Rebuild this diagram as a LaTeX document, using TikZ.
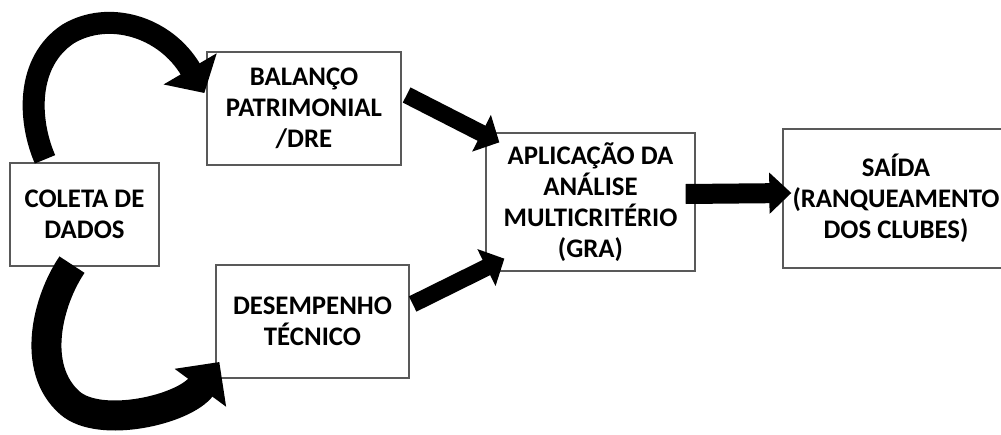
\documentclass[tikz,border=0pt]{standalone}
\usepackage{fontspec}
\setmainfont{Carlito}
\usetikzlibrary{arrows.meta,calc}
\begin{document}
\begin{tikzpicture}[x=1pt,y=-1pt,
  box/.style={draw=black!65, line width=1.3pt, align=center, inner sep=0pt,
    font=\bfseries\fontsize{26.8}{31}\selectfont},
  blockarrow/.style={line width=#1, -{Triangle[width=40pt,length=20pt]}},
  curvearrow/.style={line width=#1}]
\useasboundingbox (0,0) rectangle (1001,434);
\clip (0,0) rectangle (1001,434);
\node[box, minimum width=149pt, minimum height=103pt] (coleta) at (84.5,214.5) {COLETA DE\\DADOS};
\node[box, minimum width=194pt, minimum height=113pt] (balanco) at (304,108.5) {BALANÇO\\PATRIMONIAL\\/DRE};
\node[box, minimum width=193pt, minimum height=113pt] (desempenho) at (312.5,321.5) {DESEMPENHO\\TÉCNICO};
\node[box, minimum width=209pt, minimum height=138pt] (aplicacao) at (590.5,202) {APLICAÇÃO DA\\ANÁLISE\\MULTICRITÉRIO\\(GRA)};
\node[box, minimum width=226pt, minimum height=139pt] (saida) at (896,198.5) {SAÍDA\\(RANQUEAMENTO\\DOS CLUBES)};
% curved arrows
\coordinate (t1) at ($(coleta.north)+(-39.5,-3)$);
\coordinate (h1) at ($(balanco.west)+(-2,-15.5)$);
\coordinate (t2) at ($(coleta.south)+(-12.5,-2)$);
\coordinate (h2) at ($(desempenho.west)+(4,40.5)$);
\draw[curvearrow=22pt, -{Triangle[width=60pt,length=28pt]}] (t1) .. controls (28,120) and (26,62) .. (68,34) .. controls (108,10) and (165,26) .. (h1);
\draw[curvearrow=30pt, -{Triangle[width=62pt,length=32pt]}] (t2) .. controls (48,300) and (30,368) .. (70,403) .. controls (100,429) and (184,410) .. (h2);
% straight arrows
\draw[blockarrow=17pt] ($(balanco.east)+(5,-13.5)$) -- ($(aplicacao.north west)+(14,10)$);
\draw[blockarrow=17pt] ($(desempenho.east)+(3,-17.5)$) -- ($(aplicacao.south west)+(19,-13)$);
\draw[line width=20pt, -{Triangle[width=40pt,length=22pt]}] ($(aplicacao.east)+(-10,-8)$) -- ($(saida.west)+(9,-5.5)$);
\end{tikzpicture}
\end{document}
